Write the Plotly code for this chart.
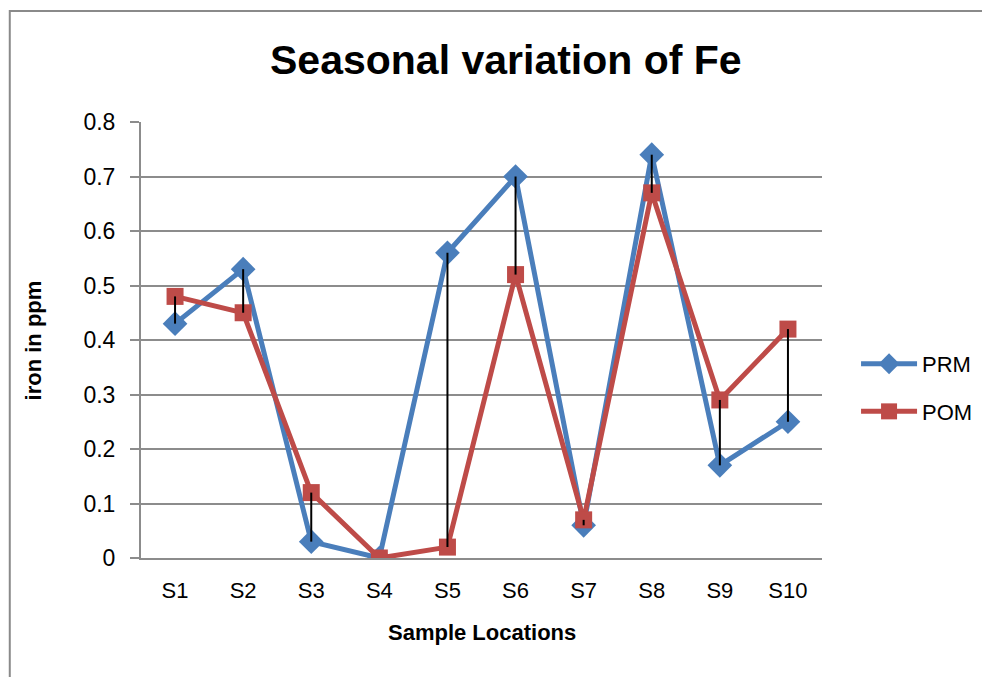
import plotly.graph_objects as go

sites = ["S1", "S2", "S3", "S4", "S5", "S6", "S7", "S8", "S9", "S10"]
prm = [0.43, 0.53, 0.03, 0.0, 0.56, 0.70, 0.06, 0.74, 0.17, 0.25]
pom = [0.48, 0.45, 0.12, 0.0, 0.02, 0.52, 0.07, 0.67, 0.29, 0.42]
yticks = [0, 0.1, 0.2, 0.3, 0.4, 0.5, 0.6, 0.7, 0.8]
yticklabels = ["0", "0.1", "0.2", "0.3", "0.4", "0.5", "0.6", "0.7", "0.8"]

FONT = "Liberation Sans, Arial, sans-serif"
BLUE = "#4A7EBB"
RED = "#BE4B48"
GRID = "#8c8c8c"

fig = go.Figure()

fig.add_trace(go.Scatter(
    x=sites, y=prm, name="PRM", mode="lines+markers",
    line=dict(color=BLUE, width=5),
    marker=dict(symbol="diamond", size=19, color=BLUE),
    legendgroup="a",
))
fig.add_trace(go.Scatter(
    x=sites, y=pom, name="POM", mode="lines+markers",
    line=dict(color=RED, width=5),
    marker=dict(symbol="square", size=17, color=RED),
    legendgroup="b",
))

# high-low lines between the two series
hx, hy = [], []
for s, a, b in zip(sites, prm, pom):
    hx += [s, s, None]
    hy += [a, b, None]
fig.add_trace(go.Scatter(
    x=hx, y=hy, mode="lines", line=dict(color="black", width=2),
    showlegend=False, hoverinfo="skip",
))

# page body adds 8px, so the figure is 8px smaller and margins shifted
fig.update_layout(
    width=982, height=669,
    margin=dict(l=133, r=164, t=114, b=119),
    plot_bgcolor="white", paper_bgcolor="white",
    font=dict(family=FONT, size=22, color="black"),
    showlegend=True,
    legend=dict(x=1.05, y=0.39, xanchor="left", yanchor="middle",
                font=dict(size=22), tracegroupgap=16, itemwidth=56,
                bgcolor="rgba(0,0,0,0)"),
    xaxis=dict(
        type="category", range=[-0.5, 9.5],
        showgrid=False, showline=True, linecolor=GRID, linewidth=2,
        ticks="", tickfont=dict(size=22), zeroline=False,
        ticklabelstandoff=12,
    ),
    yaxis=dict(
        range=[0, 0.8], tickvals=yticks, ticktext=yticklabels,
        showgrid=True, gridcolor=GRID, gridwidth=2,
        showline=True, linecolor=GRID, linewidth=2,
        ticks="outside", ticklen=9, tickcolor=GRID, tickwidth=2,
        tickfont=dict(size=23), zeroline=False,
        ticklabelstandoff=10,
    ),
    annotations=[
        dict(text="<b>Seasonal variation of Fe</b>", x=0.536, y=1.142,
             xanchor="center", yanchor="middle",
             xref="paper", yref="paper", showarrow=False,
             font=dict(size=41, family=FONT)),
        dict(text="<b>iron in ppm</b>", x=-0.158, y=0.5, textangle=-90,
             xanchor="center", yanchor="middle",
             xref="paper", yref="paper", showarrow=False,
             font=dict(size=22, family=FONT)),
        dict(text="<b>Sample Locations</b>", x=0.5007, y=-0.17,
             xanchor="center", yanchor="middle",
             xref="paper", yref="paper", showarrow=False,
             font=dict(size=22, family=FONT)),
    ],
    shapes=[
        dict(type="rect", xref="paper", yref="paper",
             x0=-0.1927, y0=-1, x1=2, y1=1.2546,
             line=dict(color="#8a8a8a", width=2), layer="below"),
    ],
)

fig.write_html("out.html")
